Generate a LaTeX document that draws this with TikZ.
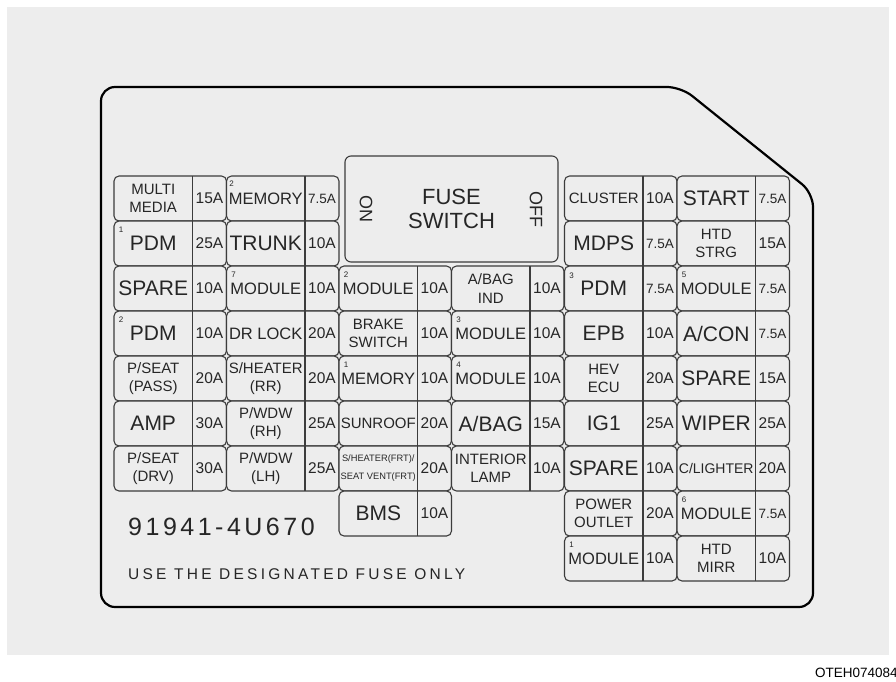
\documentclass[tikz,border=0pt]{standalone}
\usepackage{fontspec}
\setmainfont{Liberation Sans}
\newfontfamily\partfont[LetterSpace=14]{Liberation Sans}
\newfontfamily\notefont[LetterSpace=21]{Liberation Sans}
\definecolor{bg}{HTML}{EDEDED}
\definecolor{ink}{HTML}{262626}
\definecolor{rule}{HTML}{3C3C3C}
\tikzset{
  pairbox/.style={draw=rule,fill=bg,rounded corners=5pt,line width=1.1pt,minimum width=112.5pt,minimum height=45pt,inner sep=0pt,outer sep=0pt},
  divline/.style={draw=rule,line width=1.1pt},
  bigname/.style={font=\fontsize{21}{24}\selectfont,text=ink,inner sep=0pt},
  midname/.style={font=\fontsize{16.5}{19}\selectfont,text=ink,inner sep=0pt},
  twoname/.style={font=\fontsize{15}{18.5}\selectfont,text=ink,align=center,inner sep=0pt},
  tightname/.style={font=\fontsize{14}{17}\selectfont,text=ink,inner sep=0pt},
  tinyname/.style={font=\fontsize{9.3}{18}\selectfont,text=ink,align=center,inner sep=0pt},
  ampnum/.style={font=\fontsize{15.5}{18}\selectfont,text=ink,inner sep=0pt},
  ampsmall/.style={font=\fontsize{13.5}{16}\selectfont,text=ink,inner sep=0pt},
  idxnum/.style={font=\fontsize{8}{8}\selectfont,text=ink,inner sep=0pt},
  outline/.style={draw=black,line width=2.2pt,rounded corners=14pt},
  switchbox/.style={draw=rule,fill=bg,rounded corners=6pt,line width=1.1pt,minimum width=213pt,minimum height=106pt,inner sep=0pt,outer sep=0pt},
}
% one fuse: box, divider, name, rating
\newcommand\fusepair[7]{%
  \node[pairbox,anchor=north west] (#1) at (#2,#3) {};
  \draw[divline] ([xshift=78.5pt]#1.north west) -- ([xshift=78.5pt]#1.south west);
  \node[#4] (#1n) at ([xshift=39.25pt]#1.west) {#5};
  \node[#6] (#1a) at ([xshift=-17pt]#1.east) {#7};
}

\begin{document}
\begin{tikzpicture}[x=1pt,y=-1pt]
\fill[white] (0,0) rectangle (896,682);
\useasboundingbox (0,0) rectangle (896,682);
\fill[bg] (7,7) rectangle (889,655);
\draw[outline] (300,87) -- (681,87) -- (813,193) -- (813,607) -- (101,607) -- (101,87) -- cycle;

% fuse switch
\node[switchbox,anchor=north west] (sw) at (345,156) {};
\node[font=\fontsize{22}{24}\selectfont,text=ink,align=center] (swt) at (sw.center) {FUSE\\SWITCH};
\node[font=\fontsize{18}{18}\selectfont,text=ink,rotate=-90] (on) at ([xshift=21pt]sw.west) {ON};
\node[font=\fontsize{18}{18}\selectfont,text=ink,rotate=-90] (off) at ([xshift=-22pt]sw.east) {OFF};

% left block
\fusepair{a1}{114}{176}{twoname}{MULTI\\MEDIA}{ampnum}{15A}
\fusepair{b1}{226.5}{176}{midname}{MEMORY}{ampsmall}{7.5A}
\fusepair{a2}{114}{221}{bigname}{PDM}{ampnum}{25A}
\fusepair{b2}{226.5}{221}{bigname}{TRUNK}{ampnum}{10A}
\fusepair{a3}{114}{266}{bigname}{SPARE}{ampnum}{10A}
\fusepair{b3}{226.5}{266}{midname}{MODULE}{ampnum}{10A}
\fusepair{a4}{114}{311}{bigname}{PDM}{ampnum}{10A}
\fusepair{b4}{226.5}{311}{midname}{DR LOCK}{ampnum}{20A}
\fusepair{a5}{114}{356}{twoname}{P/SEAT\\(PASS)}{ampnum}{20A}
\fusepair{b5}{226.5}{356}{twoname}{S/HEATER\\(RR)}{ampnum}{20A}
\fusepair{a6}{114}{401}{bigname}{AMP}{ampnum}{30A}
\fusepair{b6}{226.5}{401}{twoname}{P/WDW\\(RH)}{ampnum}{25A}
\fusepair{a7}{114}{446}{twoname}{P/SEAT\\(DRV)}{ampnum}{30A}
\fusepair{b7}{226.5}{446}{twoname}{P/WDW\\(LH)}{ampnum}{25A}

% middle block
\fusepair{c3}{339}{266}{midname}{MODULE}{ampnum}{10A}
\fusepair{d3}{451.5}{266}{twoname}{A/BAG\\IND}{ampnum}{10A}
\fusepair{c4}{339}{311}{twoname}{BRAKE\\SWITCH}{ampnum}{10A}
\fusepair{d4}{451.5}{311}{midname}{MODULE}{ampnum}{10A}
\fusepair{c5}{339}{356}{midname}{MEMORY}{ampnum}{10A}
\fusepair{d5}{451.5}{356}{midname}{MODULE}{ampnum}{10A}
\fusepair{c6}{339}{401}{twoname}{SUNROOF}{ampnum}{20A}
\fusepair{d6}{451.5}{401}{bigname}{A/BAG}{ampnum}{15A}
\fusepair{c7}{339}{446}{tinyname}{S/HEATER(FRT)/\\SEAT VENT(FRT)}{ampnum}{20A}
\fusepair{d7}{451.5}{446}{twoname}{INTERIOR\\LAMP}{ampnum}{10A}
\fusepair{c8}{339}{491}{bigname}{BMS}{ampnum}{10A}

% right block
\fusepair{e1}{564.5}{176}{twoname}{CLUSTER}{ampnum}{10A}
\fusepair{f1}{677}{176}{bigname}{START}{ampsmall}{7.5A}
\fusepair{e2}{564.5}{221}{bigname}{MDPS}{ampsmall}{7.5A}
\fusepair{f2}{677}{221}{twoname}{HTD\\STRG}{ampnum}{15A}
\fusepair{e3}{564.5}{266}{bigname}{PDM}{ampsmall}{7.5A}
\fusepair{f3}{677}{266}{midname}{MODULE}{ampsmall}{7.5A}
\fusepair{e4}{564.5}{311}{bigname}{EPB}{ampnum}{10A}
\fusepair{f4}{677}{311}{bigname}{A/CON}{ampsmall}{7.5A}
\fusepair{e5}{564.5}{356}{twoname}{HEV\\ECU}{ampnum}{20A}
\fusepair{f5}{677}{356}{bigname}{SPARE}{ampnum}{15A}
\fusepair{e6}{564.5}{401}{bigname}{IG1}{ampnum}{25A}
\fusepair{f6}{677}{401}{bigname}{WIPER}{ampnum}{25A}
\fusepair{e7}{564.5}{446}{bigname}{SPARE}{ampnum}{10A}
\fusepair{f7}{677}{446}{tightname}{C/LIGHTER}{ampnum}{20A}
\fusepair{e8}{564.5}{491}{twoname}{POWER\\OUTLET}{ampnum}{20A}
\fusepair{f8}{677}{491}{midname}{MODULE}{ampsmall}{7.5A}
\fusepair{e9}{564.5}{536}{midname}{MODULE}{ampnum}{10A}
\fusepair{f9}{677}{536}{twoname}{HTD\\MIRR}{ampnum}{10A}

% small index numbers
\node[idxnum] (b1i) at ([shift={(5pt,-8pt)}]b1.north west) {2};
\node[idxnum] (a2i) at ([shift={(7pt,-9pt)}]a2.north west) {1};
\node[idxnum] (b3i) at ([shift={(7pt,-9pt)}]b3.north west) {7};
\node[idxnum] (a4i) at ([shift={(7pt,-9pt)}]a4.north west) {2};
\node[idxnum] (c3i) at ([shift={(7pt,-9pt)}]c3.north west) {2};
\node[idxnum] (d4i) at ([shift={(7pt,-9pt)}]d4.north west) {3};
\node[idxnum] (c5i) at ([shift={(7pt,-9pt)}]c5.north west) {1};
\node[idxnum] (d5i) at ([shift={(7pt,-9pt)}]d5.north west) {4};
\node[idxnum] (e3i) at ([shift={(7pt,-10pt)}]e3.north west) {3};
\node[idxnum] (f3i) at ([shift={(7pt,-9pt)}]f3.north west) {5};
\node[idxnum] (f8i) at ([shift={(7pt,-9pt)}]f8.north west) {6};
\node[idxnum] (e9i) at ([shift={(7pt,-9pt)}]e9.north west) {1};

% texts
\node[anchor=west,font=\partfont\fontsize{25}{28}\selectfont,text=ink,inner sep=0pt] (part) at (128,527) {91941-4U670};
\node[anchor=west,font=\notefont\fontsize{15.5}{18}\selectfont,text=ink,inner sep=0pt] (note) at (128,574) {USE THE DESIGNATED FUSE ONLY};
\node[anchor=west,font=\fontsize{13.5}{16}\selectfont,text=black,inner sep=0pt] (code) at (815,673) {OTEH074084};
\end{tikzpicture}
\end{document}
